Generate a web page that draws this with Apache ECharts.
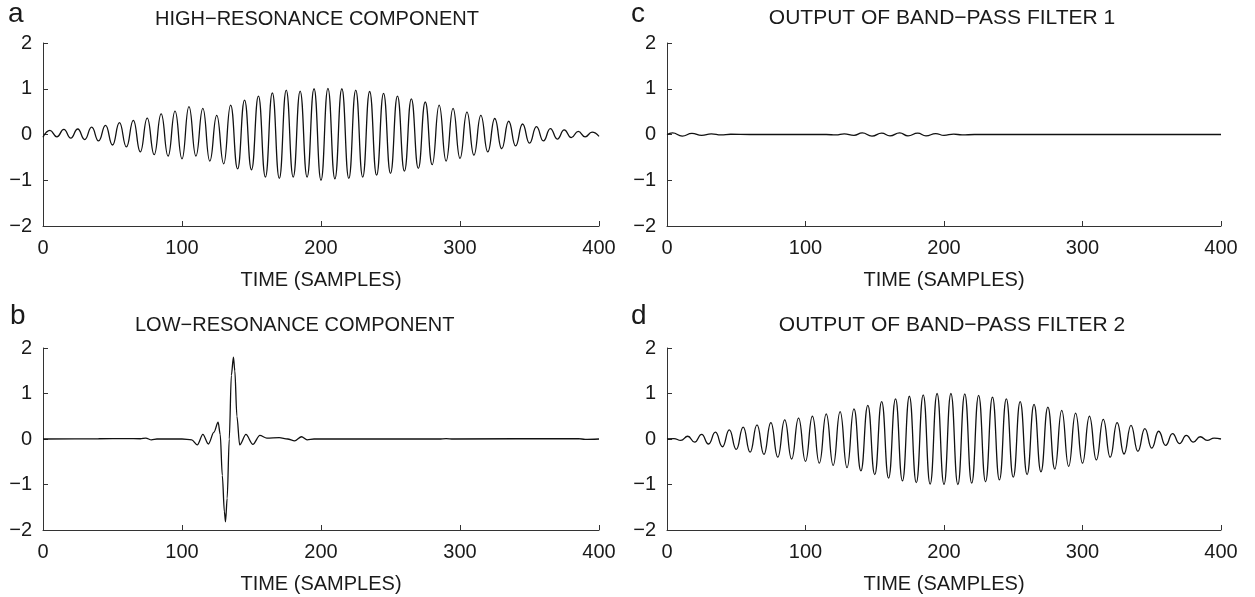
<!DOCTYPE html>
<html>
<head>
<meta charset="utf-8">
<script src="https://cdn.jsdelivr.net/npm/echarts@6/dist/echarts.min.js"></script>
<style>
    html, body {
        margin: 0;
        padding: 0;
        background: #fff;
    }
    #chart-box {
        width: 1255px;
        height: 597px;
    }
</style>
</head>
<body>
<div id="chart-box"></div>
<script>
    // readings: [sample, value]
    let highResonance = [
        [0, -0.06], [5, 0.09], [10, -0.05], [15, 0.11], [20, -0.08], [25, 0.12], [30, -0.11], [35, 0.16],
        [40, -0.14], [45, 0.2], [50, -0.23], [55, 0.26], [60, -0.27], [65, 0.31], [70, -0.38], [75, 0.36],
        [80, -0.44], [85, 0.45], [90, -0.47], [95, 0.51], [100, -0.53], [105, 0.61], [110, -0.47], [115, 0.57],
        [120, -0.58], [125, 0.42], [130, -0.64], [135, 0.64], [140, -0.75], [145, 0.75], [150, -0.77], [155, 0.84],
        [160, -0.93], [165, 0.91], [170, -0.96], [175, 0.97], [180, -0.93], [185, 0.95], [190, -0.93], [195, 1.0],
        [200, -1.0], [205, 1.01], [210, -0.97], [215, 1.0], [220, -0.96], [225, 0.97], [230, -0.93], [235, 0.94],
        [240, -0.89], [245, 0.9], [250, -0.85], [255, 0.84], [260, -0.8], [265, 0.78], [270, -0.74], [275, 0.71],
        [280, -0.66], [285, 0.64], [290, -0.58], [295, 0.57], [300, -0.52], [305, 0.49], [310, -0.45], [315, 0.42],
        [320, -0.38], [325, 0.35], [330, -0.31], [335, 0.29], [340, -0.25], [345, 0.23], [350, -0.19], [355, 0.17],
        [360, -0.14], [365, 0.13], [370, -0.1], [375, 0.1], [380, -0.07], [385, 0.07], [390, -0.05], [395, 0.05],
        [400, -0.04]
    ];

    let lowResonance = [
        [0, 0], [40, 0.005], [60, 0.01], [70, 0.005], [74, 0.02], [78, -0.02], [82, 0], [100, 0],
        [107, -0.02], [111, -0.13], [115, 0.1], [119, -0.11], [123, 0.15], [126, 0.37], [127.5, 0.1],
        [129, -0.8], [130.5, -1.6], [131.3, -1.82], [132.5, -1.3], [134, 0], [135.5, 1.4], [137, 1.8],
        [138, 1.5], [139.5, 0.5], [141.5, -0.13], [146, 0.1], [151, -0.12], [156, 0.08], [161, 0.02],
        [170, 0.03], [176, 0], [181, -0.04], [186, 0.05], [190, -0.02], [195, 0], [285, 0], [290, 0.01],
        [295, 0], [385, 0.01], [390, -0.01], [400, 0]
    ];

    let bandPass1 = [
        [0, 0], [4, 0.035], [11, -0.035], [18, 0.025], [25, -0.02], [32, 0.015], [39, -0.01], [46, 0.005],
        [60, 0], [115, 0], [122, -0.01], [128, 0.015], [135, -0.02], [141, 0.035], [148, -0.035], [155, 0.03],
        [161, -0.03], [168, 0.035], [174, -0.03], [181, 0.03], [187, -0.03], [194, 0.02], [200, -0.02],
        [207, 0.01], [213, -0.01], [222, 0], [400, 0]
    ];

    let bandPass2 = [
        [0, 0], [5, 0.01], [10, -0.03], [15, 0.06], [20, -0.07], [25, 0.1], [30, -0.11], [35, 0.15],
        [40, -0.17], [45, 0.2], [50, -0.23], [55, 0.26], [60, -0.29], [65, 0.31], [70, -0.34], [75, 0.36],
        [80, -0.4], [85, 0.42], [90, -0.44], [95, 0.46], [100, -0.49], [105, 0.5], [110, -0.53], [115, 0.55],
        [120, -0.58], [125, 0.6], [130, -0.63], [135, 0.66], [140, -0.7], [145, 0.74], [150, -0.78], [155, 0.82],
        [160, -0.86], [165, 0.88], [170, -0.92], [175, 0.94], [180, -0.96], [185, 0.97], [190, -0.99], [195, 1.0],
        [200, -1.0], [205, 1.0], [210, -1.0], [215, 0.99], [220, -0.97], [225, 0.96], [230, -0.94], [235, 0.92],
        [240, -0.9], [245, 0.88], [250, -0.84], [255, 0.82], [260, -0.78], [265, 0.76], [270, -0.72], [275, 0.7],
        [280, -0.66], [285, 0.63], [290, -0.6], [295, 0.57], [300, -0.53], [305, 0.5], [310, -0.46], [315, 0.43],
        [320, -0.4], [325, 0.36], [330, -0.33], [335, 0.3], [340, -0.27], [345, 0.23], [350, -0.2], [355, 0.17],
        [360, -0.14], [365, 0.12], [370, -0.1], [375, 0.08], [380, -0.07], [385, 0.05], [390, -0.03], [395, 0.02],
        [400, 0]
    ];

    let panelTitles = ['HIGH\u2212RESONANCE COMPONENT', 'LOW\u2212RESONANCE COMPONENT',
        'OUTPUT OF BAND\u2212PASS FILTER 1', 'OUTPUT OF BAND\u2212PASS FILTER 2'];
    let panelLetters = ['a', 'b', 'c', 'd'];
    let xName = 'TIME (SAMPLES)';

    let font = '"Liberation Sans", Arial, sans-serif';
    let ink = '#1a1a1a';

    let grids = [
        {left: 43, top: 43, width: 556, height: 183},
        {left: 43, top: 348, width: 556, height: 182},
        {left: 667, top: 43, width: 554, height: 183},
        {left: 667, top: 348, width: 554, height: 182}
    ];

    let titleStyle = [
        {x: 155, y: 19, align: 'left', size: 20},
        {x: 135, y: 325, align: 'left', size: 20},
        {x: 942, y: 18, align: 'center', size: 21},
        {x: 952, y: 325, align: 'center', size: 21}
    ];
    let letterPos = [[8, 0], [10, 302], [631, 0], [631, 302]];
    let seriesData = [highResonance, lowResonance, bandPass1, bandPass2];

    let axisLine = {show: true, onZero: false, lineStyle: {color: '#333', width: 1}};
    let axisTick = {show: true, inside: true, length: 5, lineStyle: {color: '#333', width: 1}};

    let graphics = [];
    panelTitles.forEach(function (t, i) {
        let s = titleStyle[i];
        graphics.push({
            type: 'text',
            x: s.x,
            y: s.y,
            style: {text: t, font: s.size + 'px ' + font, fill: ink, align: s.align, verticalAlign: 'middle'}
        });
    });
    panelLetters.forEach(function (l, i) {
        graphics.push({
            type: 'text',
            left: letterPos[i][0],
            top: letterPos[i][1],
            style: {text: l, font: '28px ' + font, fill: ink}
        });
    });

    let option = {
        animation: false,
        backgroundColor: '#fff',
        grid: grids,
        graphic: graphics,
        xAxis: grids.map(function (g, i) {
            return {
                type: 'value',
                gridIndex: i,
                min: 0,
                max: 400,
                interval: 100,
                name: xName,
                nameLocation: 'middle',
                nameGap: 44,
                nameTextStyle: {fontFamily: font, fontSize: 20, color: ink},
                axisLine: axisLine,
                axisTick: axisTick,
                splitLine: {show: false},
                axisLabel: {fontFamily: font, fontSize: 20, color: ink, margin: 12}
            };
        }),
        yAxis: grids.map(function (g, i) {
            return {
                type: 'value',
                gridIndex: i,
                min: -2,
                max: 2,
                interval: 1,
                axisLine: axisLine,
                axisTick: axisTick,
                splitLine: {show: false},
                axisLabel: {
                    fontFamily: font, fontSize: 20, color: ink, margin: 11,
                    formatter: function (v) {
                        return String(v).replace('-', '\u2212');
                    }
                }
            };
        }),
        series: seriesData.map(function (d, i) {
            return {
                type: 'line',
                xAxisIndex: i,
                yAxisIndex: i,
                data: d,
                showSymbol: false,
                smooth: i === 1 ? 0.3 : 0.5,
                smoothMonotone: 'x',
                lineStyle: {color: '#111', width: 1.3}
            };
        })
    };

    let chart = echarts.init(document.getElementById('chart-box'));
    chart.setOption(option);

    window.addEventListener('resize', function () {
        chart.resize();
    });
</script>
</body>
</html>
